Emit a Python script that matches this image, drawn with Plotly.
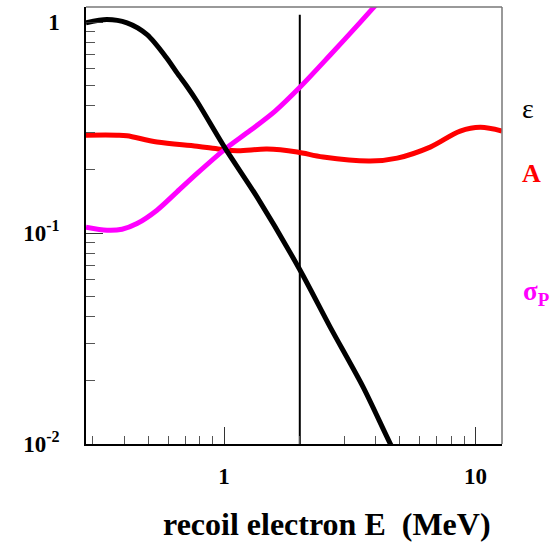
import math
import plotly.graph_objects as go

# ---- data ----
eps_E = [0.2824, 0.342, 0.411, 0.494, 0.593, 0.650, 0.712, 0.781, 1.009, 1.353, 2.006, 2.642, 3.573, 4.577, 5.017]
eps_V = [0.990, 1.027, 0.990, 0.871, 0.672, 0.574, 0.495, 0.420, 0.2526, 0.1479, 0.0666, 0.0358, 0.0186, 0.01005, 0.00817]

A_E = [0.2824, 0.375, 0.411, 0.541, 0.781, 0.964, 1.127, 1.483, 1.952, 2.477, 3.81, 4.88, 6.60, 8.69, 10.44, 12.74]
A_V = [0.291, 0.291, 0.289, 0.270, 0.258, 0.2498, 0.2453, 0.2498, 0.2419, 0.229, 0.2192, 0.2265, 0.2554, 0.3040, 0.3170, 0.3042]

sig_E = [0.2824, 0.342, 0.3928, 0.4506, 0.541, 0.650, 0.781, 1.009, 1.269, 1.596, 2.006, 2.642, 3.477, 3.916, 4.372]
sig_V = [0.1066, 0.1031, 0.1042, 0.1109, 0.1283, 0.1567, 0.1916, 0.2498, 0.3058, 0.3785, 0.492, 0.698, 0.9956, 1.166, 1.345]

cut_E = [2.0, 2.0]
cut_V = [0.01, 1.081]

x_major = [1, 10]
x_major_text = ["1", "10"]
x_minor = [0.3, 0.4, 0.5, 0.6, 0.7, 0.8, 0.9, 2, 3, 4, 5, 6, 7, 8, 9]
y_major = [0.01, 0.1, 1]
y_major_text = ["10<sup>-2</sup>", "10<sup>-1</sup>", "1"]
y_minor = [0.02, 0.03, 0.04, 0.05, 0.06, 0.07, 0.08, 0.09,
           0.2, 0.3, 0.4, 0.5, 0.6, 0.7, 0.8, 0.9]

x_range = [0.2824, 12.74]
y_range = [0.01, 1.178]

FONT = "Liberation Serif"

fig = go.Figure()
fig.add_trace(go.Scatter(x=cut_E, y=cut_V, mode="lines",
                         line=dict(color="black", width=2), showlegend=False))
fig.add_trace(go.Scatter(x=A_E, y=A_V, mode="lines",
                         line=dict(color="#ff0000", width=5, shape="spline", smoothing=1),
                         showlegend=False))
fig.add_trace(go.Scatter(x=sig_E, y=sig_V, mode="lines",
                         line=dict(color="#ff00ff", width=5, shape="spline", smoothing=0.8),
                         showlegend=False))
fig.add_trace(go.Scatter(x=eps_E, y=eps_V, mode="lines",
                         line=dict(color="black", width=5, shape="spline", smoothing=0.8),
                         showlegend=False))

fig.update_xaxes(type="log", range=[math.log10(v) for v in x_range],
                 showline=True, linecolor="black", linewidth=1.5, mirror=False,
                 showgrid=False, zeroline=False,
                 tickmode="array", tickvals=x_major, ticktext=x_major_text,
                 ticks="inside", ticklen=17, tickcolor="#333", tickwidth=1,
                 ticklabelstandoff=11,
                 tickfont=dict(family=FONT, size=23, color="black", weight="bold"),
                 minor=dict(tickmode="array", tickvals=x_minor, ticks="inside",
                            ticklen=8, tickcolor="#555", tickwidth=1, showgrid=False))
fig.update_yaxes(type="log", range=[math.log10(v) for v in y_range],
                 showline=True, linecolor="black", linewidth=1.5, mirror=False,
                 showgrid=False, zeroline=False,
                 tickmode="array", tickvals=y_major, ticktext=y_major_text,
                 ticks="inside", ticklen=17, tickcolor="#333", tickwidth=1,
                 ticklabelstandoff=20,
                 tickfont=dict(family=FONT, size=23, color="black", weight="bold"),
                 minor=dict(tickmode="array", tickvals=y_minor, ticks="inside",
                            ticklen=9, tickcolor="#555", tickwidth=1, showgrid=False))

# top and right frame edges (grey)
fig.add_shape(type="line", xref="paper", yref="paper", x0=0, x1=1, y0=1, y1=1,
              line=dict(color="#777", width=1.5))
fig.add_shape(type="line", xref="paper", yref="paper", x0=1, x1=1, y0=0, y1=1,
              line=dict(color="#777", width=1.5))

fig.add_annotation(text="<b>recoil electron E  (MeV)</b>", xref="paper", yref="paper",
                   x=0.58, y=-0.182, xanchor="center", yanchor="middle", showarrow=False,
                   font=dict(family=FONT, size=32, color="black"))
fig.add_annotation(text="ε", xref="paper", yref="paper", x=1.062, y=0.768,
                   xanchor="center", yanchor="middle", showarrow=False,
                   font=dict(family=FONT, size=28, color="black"))
fig.add_annotation(text="<b>A</b>", xref="paper", yref="paper", x=1.072, y=0.62,
                   xanchor="center", yanchor="middle", showarrow=False,
                   font=dict(family=FONT, size=26, color="#ff0000"))
fig.add_annotation(text="<b>σ<sub>P</sub></b>", xref="paper", yref="paper", x=1.082, y=0.345,
                   xanchor="center", yanchor="middle", showarrow=False,
                   font=dict(family=FONT, size=27, color="#ff00ff"))

fig.update_layout(width=554, height=542,
                  margin=dict(l=86, r=52, t=7, b=98, pad=0, autoexpand=False),
                  paper_bgcolor="white", plot_bgcolor="white",
                  showlegend=False)

fig.write_html("out.html", config={"displayModeBar": False},
               post_script="document.body.style.margin='0';document.body.style.overflow='hidden';")
